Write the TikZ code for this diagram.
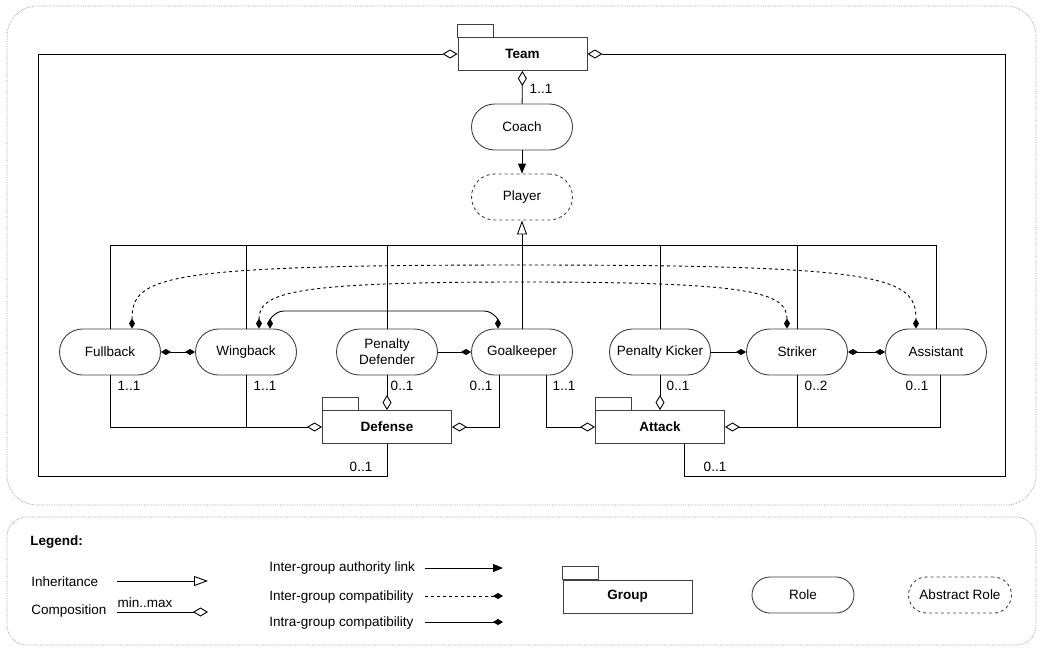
\documentclass[tikz,border=0pt]{standalone}
\usepackage{fontspec}
\setmainfont{Liberation Sans}
\usetikzlibrary{arrows.meta,positioning}

\begin{document}
\begin{tikzpicture}[x=1pt, y=-1pt, line width=0.9pt,
    font=\fontsize{13.5}{16}\selectfont,
    role/.style={rectangle, draw=black!75, rounded corners=23pt,
                 minimum width=101pt, minimum height=46pt,
                 inner sep=1pt, align=center},
    abstract/.style={role, dashed},
    group/.style={rectangle, draw=black!75, minimum width=129pt,
                  minimum height=33pt, font=\fontsize{13.5}{16}\selectfont\bfseries},
    mult/.style={inner sep=0pt},
    txt/.style={anchor=west, inner sep=0pt},
    comp/.style={-{Diamond[open,length=15pt,width=9pt]}},
    inh/.style={-{Triangle[open,length=14pt,width=10pt]}},
    auth/.style={-{Triangle[length=10pt,width=8pt]}},
    intra/.style={{Diamond[length=10pt,width=6pt]}-{Diamond[length=10pt,width=6pt]}},
    intrato/.style={-{Diamond[length=10pt,width=6pt]}},
    inter/.style={intra, dashed},
    container/.style={draw=black!40, densely dotted, line width=0.7pt},
]
\useasboundingbox (0,0) rectangle (1045,670);

% containers
\draw[container, rounded corners=30pt] (7,6) rectangle (1036,505);
\draw[container, rounded corners=20pt] (7,517) rectangle (1036,645);

% groups and roles
\node[group] (team) at (522.5,54) {Team};
\node[role] (coach) at (522,127) {Coach};
\node[abstract] (player) at (522,197) {Player};
\node[role] (fb) at (110,352) {Fullback};
\node[role] (wb) at (246,352) {Wingback};
\node[role] (pd) at (387,352) {Penalty\\Defender};
\node[role] (gk) at (522,352) {Goalkeeper};
\node[role] (pk) at (660,352) {Penalty Kicker};
\node[role] (st) at (797,352) {Striker};
\node[role] (as) at (936,352) {Assistant};
\node[group] (def) at (387,427) {Defense};
\node[group] (att) at (660,427) {Attack};

% legend
\node[txt, font=\fontsize{13.5}{16}\selectfont\bfseries] (legend) at (30,542) {Legend:};
\node[txt] (linh) at (31,582) {Inheritance};
\node[txt] (lcomp) at (31,611) {Composition};
\node[mult] (lminmax) at (145,603) {min..max};
\node[txt] (lauth) at (269,568) {Inter-group authority link};
\node[txt] (linter) at (269,597) {Inter-group compatibility};
\node[txt] (lintra) at (269,623) {Intra-group compatibility};
\node[group] (grp) at (627.5,596.5) {Group};
\node[role, rounded corners=18pt, minimum height=36pt, minimum width=102pt] (lrole) at (803,595) {Role};
\node[abstract, rounded corners=18pt, minimum height=36pt, minimum width=103pt] (labs) at (960,595) {Abstract Role};

% package tabs
\foreach \g in {team,def,att,grp}
  \draw[draw=black!75] (\g.north west) rectangle ++(36,-13);

% inheritance
\coordinate (bus) at (0,245);
\draw (fb.north) |- (bus -| as.north) -- (as.north);
\foreach \r in {wb,pd,pk,st}
  \draw (\r.north) -- (\r.north |- bus);
\draw[inh] (gk) -- (player);

% authority
\draw[auth] (coach) -- (player);

% compositions
\draw[comp] (coach) -- (team);
\draw[comp] (fb.south) |- (def.west);
\draw (wb.south) -- (wb.south |- def.west);
\draw[comp] (pd) -- (def);
\draw[comp] ([xshift=-23pt]gk.south) |- (def.east);
\draw[comp] ([xshift=24pt]gk.south) |- (att.west);
\draw[comp] (pk) -- (att);
\draw (st.south) -- (st.south |- att.east);
\draw[comp] ([xshift=4pt]as.south) |- (att.east);
\coordinate (tl) at (38,476);
\coordinate (tr) at (1005,476);
\draw[comp] (def.south) |- (tl) |- (team.west);
\draw[comp] ([xshift=24pt]att.south) |- (tr) |- (team.east);

% cardinalities
\node[mult] (c1) at (541,89) {1..1};
\node[mult] (c2) at (129,386) {1..1};
\node[mult] (c3) at (265,386) {1..1};
\node[mult] (c4) at (402,386) {0..1};
\node[mult] (c5) at (481,386) {0..1};
\node[mult] (c6) at (564,386) {1..1};
\node[mult] (c7) at (678,386) {0..1};
\node[mult] (c8) at (816,386) {0..2};
\node[mult] (c9) at (917,386) {0..1};
\node[mult] (c10) at (361,467) {0..1};
\node[mult] (c11) at (715,467) {0..1};

% compatibilities
\draw[intra] (fb) -- (wb);
\draw[intrato] (pd) -- (gk);
\draw[intrato] (pk) -- (st);
\draw[intra] (st) -- (as);
\draw[intra] ([xshift=24pt]wb.north) to[out=90,in=180] (284,311)
  -- (484,311) to[out=0,in=90] ([xshift=-24pt]gk.north);
\draw[inter] ([xshift=22pt]fb.north) .. controls +(0,-52) and (160,265) .. (522,265)
  .. controls (884,265) and +(0,-52) .. ([xshift=-20pt]as.north);
\draw[inter] ([xshift=13pt]wb.north) .. controls +(0,-36) and (290,282) .. (522,282)
  .. controls (755,282) and +(0,-36) .. ([xshift=-10pt]st.north);

% legend lines
\coordinate (a1) at (117,581);
\coordinate (a2) at (117,612);
\coordinate (a3) at (425,568);
\coordinate (a4) at (425,596);
\coordinate (a5) at (425,622);
\draw[inh] (a1) -- ++(91,0);
\draw[comp] (a2) -- ++(91,0);
\draw[auth] (a3) -- ++(78,0);
\draw[intrato, dashed] (a4) -- ++(78,0);
\draw[intrato] (a5) -- ++(78,0);
\end{tikzpicture}
\end{document}
